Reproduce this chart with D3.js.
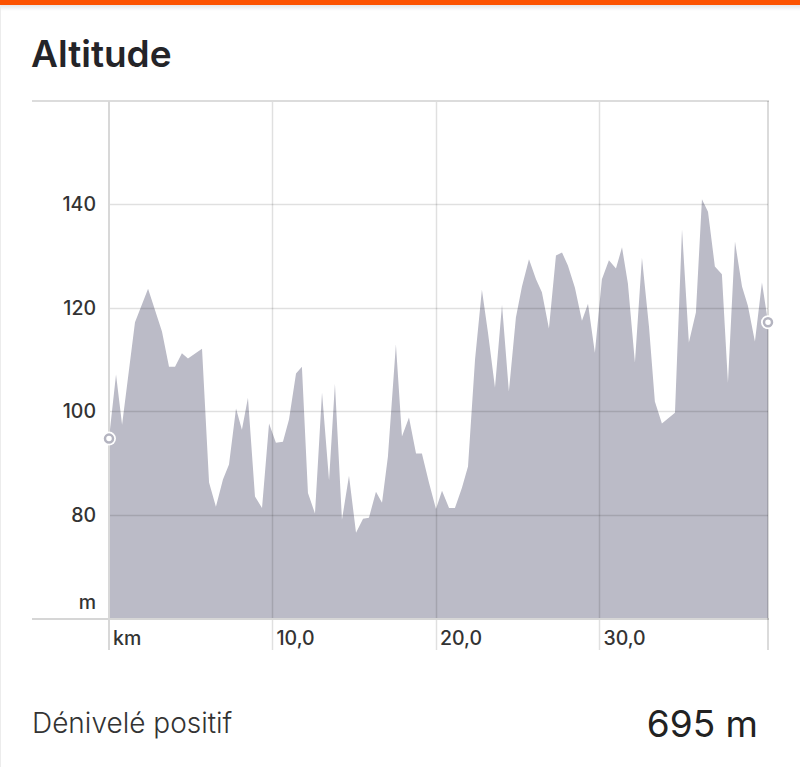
<!DOCTYPE html>
<html>
<head>
<meta charset="utf-8">
<script src="https://cdn.jsdelivr.net/npm/d3@7"></script>
<style>
  html, body { margin: 0; padding: 0; background: #fff; }
  svg { display: block; font-family: Inter, "Noto Sans", sans-serif; }
</style>
</head>
<body>
<svg id="chart" width="800" height="767"></svg>
<script>
const title = "Altitude";
const distanceKm = [0.00,0.43,0.80,1.59,2.39,3.24,3.67,4.04,4.46,4.83,5.69,6.12,6.54,6.97,7.34,7.77,8.13,8.50,8.93,9.36,9.79,10.21,10.64,11.01,11.44,11.80,12.17,12.60,13.03,13.46,13.82,14.25,14.68,15.11,15.54,15.90,16.33,16.70,17.06,17.55,17.92,18.35,18.78,19.14,19.57,20.00,20.37,20.80,21.16,21.59,21.96,22.39,22.81,23.18,23.61,24.04,24.46,24.89,25.26,25.69,26.12,26.48,26.91,27.34,27.71,28.07,28.50,28.93,29.30,29.72,30.15,30.58,31.01,31.38,31.74,32.17,32.60,33.03,33.39,33.82,34.62,35.05,35.47,35.90,36.27,36.64,37.06,37.49,37.86,38.29,38.72,39.08,39.51,39.94,40.31];
const altitudeM = [94.7,107.1,97.4,117.2,123.7,115.4,108.6,108.6,111.2,110.2,112.1,86.2,81.5,86.8,89.7,100.5,96.4,102.6,83.5,81.3,97.6,93.9,94.1,98.4,107.3,108.6,84.2,80.2,103.6,86.6,105.3,79.0,87.5,76.5,79.2,79.4,84.4,82.3,91.2,112.9,95.1,98.8,91.8,91.8,86.2,81.1,84.6,81.3,81.3,85.2,89.3,110.0,123.5,115.2,104.6,120.6,103.8,118.1,124.1,129.4,125.5,123.0,116.0,130.1,130.7,128.2,123.9,117.5,120.8,111.3,125.5,129.2,127.6,131.7,124.7,109.4,129.7,116.4,101.9,97.6,99.7,135.2,113.3,119.1,141.0,138.6,128.0,126.5,105.5,132.8,124.1,120.4,113.5,124.9,117.2];
const yTicks = [80, 100, 120, 140];
const xTicks = [10, 20, 30];
const yUnit = "m";
const xUnit = "km";
const statLabel = "Dénivelé positif";
const statValue = "695 m";

(function () {
const svg = d3.select("#chart");
const L = 109, R = 768, T = 101, B = 618;
const x = d3.scaleLinear().domain([0, d3.max(distanceKm)]).range([L, R]);
const y = d3.scaleLinear().domain([60, 160]).range([B, T]);
const data = distanceKm.map((d, i) => ({ km: d, alt: altitudeM[i] }));

const defs = svg.append("defs");
const grad = defs.append("linearGradient").attr("id", "sh").attr("x1", 0).attr("x2", 0).attr("y1", 0).attr("y2", 1);
grad.append("stop").attr("offset", 0).attr("stop-color", "#000").attr("stop-opacity", 0.10);
grad.append("stop").attr("offset", 1).attr("stop-color", "#000").attr("stop-opacity", 0);
svg.append("rect").attr("x", 0).attr("y", 5).attr("width", 800).attr("height", 6).attr("fill", "url(#sh)");
svg.append("rect").attr("x", 0).attr("y", 0).attr("width", 800).attr("height", 5).attr("fill", "#fc5200");
svg.append("line").attr("x1", 0.5).attr("x2", 0.5).attr("y1", 5).attr("y2", 767).attr("stroke", "#ececec");

svg.append("text").attr("x", 31).attr("y", 67).text(title)
  .attr("font-size", 37).attr("font-weight", 600).attr("fill", "#242428");

const area = d3.area().x(d => x(d.km)).y0(y(60)).y1(d => y(d.alt));
svg.append("path").datum(data).attr("d", area).attr("fill", "#bbbbc7");

svg.selectAll(".hg").data(yTicks).join("line")
  .attr("x1", L).attr("x2", R)
  .attr("y1", d => Math.round(y(d)) + 0.5).attr("y2", d => Math.round(y(d)) + 0.5)
  .attr("stroke", "rgba(0,0,0,0.12)").attr("stroke-width", 1.5);

svg.selectAll(".vg").data(xTicks).join("line")
  .attr("x1", d => Math.round(x(d)) + 0.5).attr("x2", d => Math.round(x(d)) + 0.5)
  .attr("y1", T).attr("y2", 650)
  .attr("stroke", "rgba(0,0,0,0.12)").attr("stroke-width", 1.5);

svg.append("line").attr("x1", 32).attr("x2", R + 1).attr("y1", T).attr("y2", T)
  .attr("stroke", "#dcdcdc").attr("stroke-width", 2);
svg.append("line").attr("x1", 32).attr("x2", R + 1).attr("y1", B + 1).attr("y2", B + 1)
  .attr("stroke", "#d6d6d6").attr("stroke-width", 2);
svg.append("line").attr("x1", L).attr("x2", L).attr("y1", T).attr("y2", 650)
  .attr("stroke", "#d8d8d8").attr("stroke-width", 2);
svg.append("line").attr("x1", R).attr("x2", R).attr("y1", T).attr("y2", 650)
  .attr("stroke", "rgba(0,0,0,0.14)").attr("stroke-width", 2);

const tickFont = 19.5;
svg.selectAll(".yl").data(yTicks).join("text")
  .attr("x", 96).attr("y", d => y(d)).attr("dy", "0.36em")
  .attr("text-anchor", "end").attr("font-size", tickFont).attr("font-weight", 500).attr("fill", "#333")
  .text(d => d);
svg.append("text").attr("x", 96).attr("y", 602).attr("dy", "0.36em").attr("text-anchor", "end")
  .attr("font-size", tickFont).attr("font-weight", 500).attr("fill", "#333").text(yUnit);

const fmt = d => d3.format(".1f")(d).replace(".", ",");
svg.selectAll(".xl").data(xTicks).join("text")
  .attr("x", d => x(d) + 4).attr("y", 645)
  .attr("font-size", tickFont).attr("font-weight", 500).attr("fill", "#333")
  .text(d => fmt(d));
svg.append("text").attr("x", L + 4).attr("y", 645)
  .attr("font-size", tickFont).attr("font-weight", 500).attr("fill", "#333").text(xUnit);

const ends = [data[0], data[data.length - 1]];
svg.selectAll(".mk0").data(ends).join("circle")
  .attr("cx", d => x(d.km)).attr("cy", d => y(d.alt)).attr("r", 7).attr("fill", "#fff");
svg.selectAll(".mk").data(ends).join("circle")
  .attr("cx", d => x(d.km)).attr("cy", d => y(d.alt)).attr("r", 4)
  .attr("fill", "#fff").attr("stroke", "#b4b4c0").attr("stroke-width", 2.5);

svg.append("text").attr("x", 32).attr("y", 733).text(statLabel)
  .attr("font-size", 28).attr("font-weight", 300).attr("fill", "#333");
svg.append("text").attr("x", 758).attr("y", 737).attr("text-anchor", "end").text(statValue)
  .attr("font-size", 37).attr("font-weight", 400).attr("fill", "#222");
})();
</script>
</body>
</html>
